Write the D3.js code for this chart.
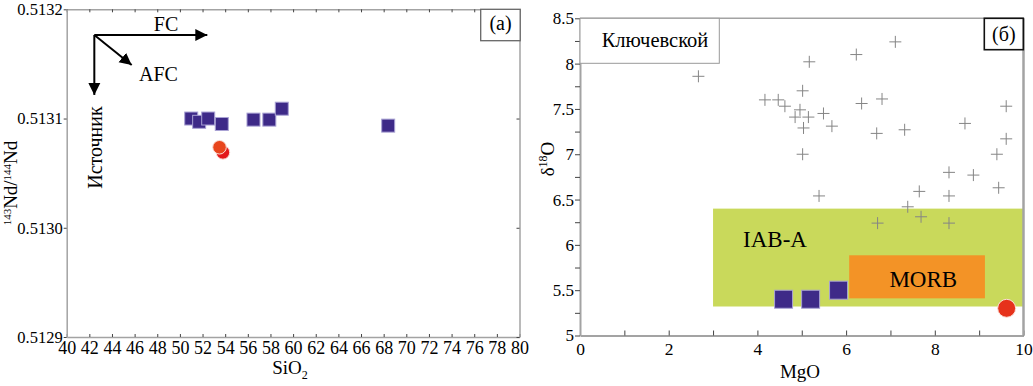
<!DOCTYPE html>
<html><head><meta charset="utf-8">
<script src="https://cdn.jsdelivr.net/npm/d3@7/dist/d3.min.js"></script>
<style>
html,body{margin:0;padding:0;background:#fff;}
svg text{font-family:"Liberation Serif","Times New Roman",serif;fill:#000;}
</style></head>
<body><svg id="c" width="1033" height="386"></svg>
<script>
// ---------- data: panel (a) ----------
const sqSiO2 = [51.0, 51.7, 52.5, 53.7, 56.5, 57.9, 59.0, 68.4];
const sqNd   = [0.5131, 0.513097, 0.5131, 0.513095, 0.513099, 0.513099, 0.513109, 0.5130935];
const ciSiO2 = [53.8, 53.5];
const ciNd   = [0.513069, 0.5130737];
const ciColA = ["#e3191b", "#e8451c"];
const xTicksA = d3.range(40, 81, 2);
const yTicksA = [0.5129, 0.5130, 0.5131, 0.5132];
// arrows (data coords): origin + ends
const arrowOrigin = [42.44, 0.5131765];
const arrowEnds = [[52.42, 0.5131765], [45.74, 0.513149], [42.44, 0.5131216]];

// ---------- data: panel (б) ----------
const crossMgO = [2.67,4.17,4.47,4.62,4.85,4.96,5.02,5.17,5.15,5.04,5.02,5.49,5.68,6.23,7.11,6.35,6.81,6.69,7.32,8.68,9.61,9.61,9.40,8.32,8.87,9.44,7.65,8.32,5.39,7.39,7.69,6.71,8.32];
const crossO18 = [7.86,7.60,7.60,7.53,7.41,7.49,7.70,8.02,7.41,7.29,7.00,7.45,7.31,8.10,8.24,7.56,7.61,7.23,7.27,7.34,7.53,7.17,7.00,6.80,6.77,6.63,6.59,6.54,6.54,6.42,6.31,6.24,6.24];
const sqMgO = [4.59, 5.20, 5.83];
const sqO18 = [5.40, 5.40, 5.50];
const ciMgO = [9.62];
const ciO18 = [5.30];
const iabRegion = {x0: 3.0, x1: 10.0, y0: 5.32, y1: 6.40};
const morbRegion = {x0: 6.07, x1: 9.13, y0: 5.41, y1: 5.885};
const xTicksB = d3.range(0, 11, 1);
const yTicksB = d3.range(5, 8.51, 0.25);

const svg = d3.select("#c");
const AX = "#a3a3a3", TK = "#444";
const SERIF = '"Liberation Serif","Times New Roman",serif';

// ======== Panel (a) ========
const xA = d3.scaleLinear([40, 80], [66.7, 519.5]);
const yA = d3.scaleLinear([0.5129, 0.5132], [337, 9.3]);

function styleAxis(g, w, fs) {
  g.attr("font-family", SERIF).attr("font-size", fs || 10);
  g.select(".domain").attr("stroke", AX).attr("stroke-width", w);
  g.selectAll(".tick line").attr("stroke", TK).attr("stroke-width", 1);
  g.selectAll(".tick text").attr("fill", "#000");
}
// bottom
svg.append("g").attr("transform", `translate(0,${yA.range()[0]})`)
  .call(d3.axisBottom(xA).tickValues(xTicksA).tickFormat(d3.format("d")).tickSize(-3).tickSizeOuter(0).tickPadding(4))
  .call(g => styleAxis(g, 1.5, 18));
// top
svg.append("g").attr("transform", `translate(0,${yA.range()[1]})`)
  .call(d3.axisTop(xA).tickValues(xTicksA).tickFormat("").tickSize(-3).tickSizeOuter(0))
  .call(g => styleAxis(g, 1.5));
// left
svg.append("g").attr("transform", `translate(${xA.range()[0]},0)`)
  .call(d3.axisLeft(yA).tickValues(yTicksA).tickFormat(d3.format(".4f")).tickSize(3).tickSizeOuter(0).tickPadding(1))
  .call(g => styleAxis(g, 1.5, 16.5));
// right
svg.append("g").attr("transform", `translate(${xA.range()[1]},0)`)
  .call(d3.axisRight(yA).tickValues(yTicksA).tickFormat("").tickSize(-3).tickSizeOuter(0))
  .call(g => styleAxis(g, 1.5));

// (a) box
svg.append("rect").attr("x", 480.7).attr("y", 9.3).attr("width", 39.5).attr("height", 31.4)
  .attr("fill", "#fff").attr("stroke", "#666").attr("stroke-width", 1.3);
svg.append("text").attr("x", 500.5).attr("y", 30).attr("text-anchor", "middle").attr("font-size", 20).text("(a)");

// arrows
const defs = svg.append("defs");
defs.append("marker").attr("id", "ah").attr("markerUnits", "userSpaceOnUse")
  .attr("markerWidth", 13).attr("markerHeight", 13).attr("refX", 12).attr("refY", 6.5)
  .attr("orient", "auto").append("path").attr("d", "M0,0.5 L12,6.5 L0,12.5 Z").attr("fill", "#000");
arrowEnds.forEach(e => {
  svg.append("line")
    .attr("x1", xA(arrowOrigin[0])).attr("y1", yA(arrowOrigin[1]))
    .attr("x2", xA(e[0])).attr("y2", yA(e[1]))
    .attr("stroke", "#000").attr("stroke-width", 2).attr("marker-end", "url(#ah)");
});
svg.append("text").attr("x", 166).attr("y", 30.5).attr("text-anchor", "middle").attr("font-size", 20).text("FC");
svg.append("text").attr("x", 158.5).attr("y", 80.5).attr("text-anchor", "middle").attr("font-size", 20).text("AFC");
svg.append("text").attr("transform", "translate(101.5,147.5) rotate(-90)").attr("text-anchor", "middle")
  .attr("font-size", 20).text("Источник");

// axis titles (a)
const tA = svg.append("text").attr("x", 290).attr("y", 374).attr("text-anchor", "middle").attr("font-size", 19);
tA.append("tspan").text("SiO");
tA.append("tspan").attr("font-size", 12).attr("dy", 5).text("2");
const yTitleA = svg.append("text").attr("transform", "translate(17,183) rotate(-90)").attr("text-anchor", "middle").attr("font-size", 19);
yTitleA.append("tspan").attr("font-size", 11).attr("dy", -6).text("143");
yTitleA.append("tspan").attr("dy", 6).text("Nd/");
yTitleA.append("tspan").attr("font-size", 11).attr("dy", -6).text("144");
yTitleA.append("tspan").attr("dy", 6).text("Nd");

// squares (a)
const sA = 13;
svg.append("g").selectAll("rect").data(sqSiO2).join("rect")
  .attr("x", (d) => xA(d) - sA / 2).attr("y", (d, i) => yA(sqNd[i]) - sA / 2)
  .attr("width", sA).attr("height", sA)
  .attr("fill", "#3e2a88").attr("stroke", "#a9a2d4").attr("stroke-width", 1);
// circles (a)
svg.append("g").selectAll("circle").data(ciSiO2).join("circle")
  .attr("cx", d => xA(d)).attr("cy", (d, i) => yA(ciNd[i])).attr("r", 6.8)
  .attr("fill", (d, i) => ciColA[i]).attr("stroke", "#fbe0d8").attr("stroke-width", 1);

// ======== Panel (б) ========
const xB = d3.scaleLinear([0, 10], [580, 1023.5]);
const yB = d3.scaleLinear([5, 8.5], [335.5, 18.3]);

// regions
svg.append("rect").attr("x", xB(iabRegion.x0)).attr("y", yB(iabRegion.y1))
  .attr("width", xB(iabRegion.x1) - xB(iabRegion.x0)).attr("height", yB(iabRegion.y0) - yB(iabRegion.y1))
  .attr("fill", "#c9d95b");
svg.append("rect").attr("x", xB(morbRegion.x0)).attr("y", yB(morbRegion.y1))
  .attr("width", xB(morbRegion.x1) - xB(morbRegion.x0)).attr("height", yB(morbRegion.y0) - yB(morbRegion.y1))
  .attr("fill", "#f39326");
svg.append("text").attr("x", 775).attr("y", 246.7).attr("text-anchor", "middle").attr("font-size", 23).text("IAB-A");
svg.append("text").attr("x", 923.3).attr("y", 287.3).attr("text-anchor", "middle").attr("font-size", 23).text("MORB");

// axes (б)
svg.append("g").attr("transform", `translate(0,${yB.range()[0]})`)
  .call(d3.axisBottom(xB).tickValues(xTicksB).tickFormat(d => d % 2 === 0 ? d : "").tickSize(-5).tickSizeOuter(0).tickPadding(7))
  .call(g => styleAxis(g, 2, 17.5));
svg.append("g").attr("transform", `translate(${xB.range()[0]},0)`)
  .call(d3.axisLeft(yB).tickValues(yTicksB).tickFormat(d => (Math.round(d * 4) % 2 === 0) ? d3.format("~g")(d) : "").tickSize(5).tickSizeOuter(0).tickPadding(1))
  .call(g => styleAxis(g, 2, 17));
// top and right frame
svg.append("line").attr("x1", xB(0)).attr("x2", xB(10)).attr("y1", yB(8.5)).attr("y2", yB(8.5)).attr("stroke", AX).attr("stroke-width", 1.5);
svg.append("line").attr("x1", xB(10)).attr("x2", xB(10)).attr("y1", yB(8.5)).attr("y2", yB(5)).attr("stroke", AX).attr("stroke-width", 2.5);

// legend box
svg.append("rect").attr("x", 580).attr("y", 18.3).attr("width", 139.3).attr("height", 45)
  .attr("fill", "#fff").attr("stroke", "#999").attr("stroke-width", 1);
svg.append("text").attr("x", 655).attr("y", 47).attr("text-anchor", "middle").attr("font-size", 20.5).text("Ключевской");
// (б) box
svg.append("rect").attr("x", 984.3).attr("y", 18.3).attr("width", 39).attr("height", 31.4)
  .attr("fill", "#fff").attr("stroke", "#111").attr("stroke-width", 1.6);
svg.append("text").attr("x", 1003.8).attr("y", 41).attr("text-anchor", "middle").attr("font-size", 20).text("(б)");

// crosses
const cs = 6;
const cr = svg.append("g").attr("stroke", "#858585").attr("stroke-width", 1);
cr.selectAll("path").data(crossMgO).join("path")
  .attr("d", (d, i) => {
    const x = xB(d), y = yB(crossO18[i]);
    return `M${x - cs},${y}H${x + cs}M${x},${y - cs}V${y + cs}`;
  });

// squares (б)
const sB = 18;
svg.append("g").selectAll("rect").data(sqMgO).join("rect")
  .attr("x", d => xB(d) - sB / 2).attr("y", (d, i) => yB(sqO18[i]) - sB / 2)
  .attr("width", sB).attr("height", sB)
  .attr("fill", "#3e2a88").attr("stroke", "#a9a2d4").attr("stroke-width", 1);
svg.append("g").selectAll("circle").data(ciMgO).join("circle")
  .attr("cx", d => xB(d)).attr("cy", (d, i) => yB(ciO18[i])).attr("r", 9)
  .attr("fill", "#e6321b").attr("stroke", "#fbe0d8").attr("stroke-width", 1);

// axis titles (б)
svg.append("text").attr("x", 800).attr("y", 378).attr("text-anchor", "middle").attr("font-size", 19).text("MgO");
const yTitleB = svg.append("text").attr("transform", "translate(554,159) rotate(-90)").attr("text-anchor", "middle").attr("font-size", 19);
yTitleB.append("tspan").text("δ");
yTitleB.append("tspan").attr("font-size", 12).attr("dy", -7).text("18");
yTitleB.append("tspan").attr("dy", 7).text("O");
</script></body></html>
